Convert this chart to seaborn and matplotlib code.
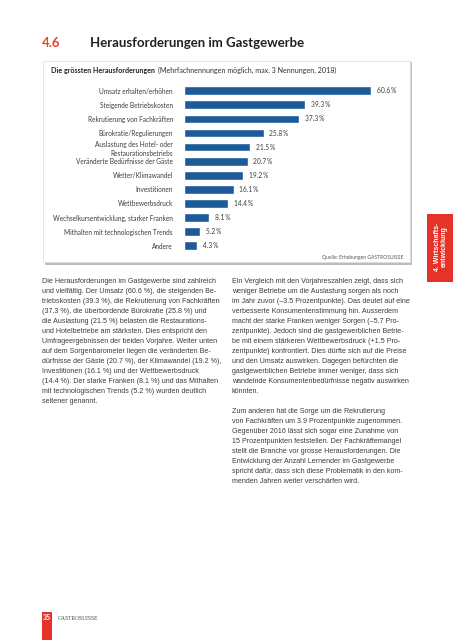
import matplotlib
matplotlib.use("Agg")
import matplotlib.pyplot as plt
import seaborn as sns
from matplotlib.patches import Rectangle

# chart data
categories = [
    "Umsatz erhalten/erhöhen",
    "Steigende Betriebskosten",
    "Rekrutierung von Fachkräften",
    "Bürokratie/Regulierungen",
    "Auslastung des Hotel- oder\nRestaurationsbetriebs",
    "Veränderte Bedürfnisse der Gäste",
    "Wetter/Klimawandel",
    "Investitionen",
    "Wettbewerbsdruck",
    "Wechselkursentwicklung, starker Franken",
    "Mithalten mit technologischen Trends",
    "Andere",
]
values = [60.6, 39.3, 37.3, 25.8, 21.5, 20.7, 19.2, 16.1, 14.4, 8.1, 5.2, 4.3]
value_labels = [f"{v:.1f}\u2009%" for v in values]

left_text = """Die Herausforderungen im Gastgewerbe sind zahlreich
und vielfältig. Der Umsatz (60.6 %), die steigenden Be-
triebskosten (39.3 %), die Rekrutierung von Fachkräften
(37.3 %), die überbordende Bürokratie (25.8 %) und
die Auslastung (21.5 %) belasten die Restaurations-
und Hotelbetriebe am stärksten. Dies entspricht den
Umfrageergebnissen der beiden Vorjahre. Weiter unten
auf dem Sorgenbarometer liegen die veränderten Be-
dürfnisse der Gäste (20.7 %), der Klimawandel (19.2 %),
Investitionen (16.1 %) und der Wettbewerbsdruck
(14.4 %). Der starke Franken (8.1 %) und das Mithalten
mit technologischen Trends (5.2 %) wurden deutlich
seltener genannt."""

right_text = """Ein Vergleich mit den Vorjahreszahlen zeigt, dass sich
weniger Betriebe um die Auslastung sorgen als noch
im Jahr zuvor (–3.5 Prozentpunkte). Das deutet auf eine
verbesserte Konsumentenstimmung hin. Ausserdem
macht der starke Franken weniger Sorgen (–5.7 Pro-
zentpunkte). Jedoch sind die gastgewerblichen Betrie-
be mit einem stärkeren Wettbewerbsdruck (+1.5 Pro-
zentpunkte) konfrontiert. Dies dürfte sich auf die Preise
und den Umsatz auswirken. Dagegen befürchten die
gastgewerblichen Betriebe immer weniger, dass sich
wandelnde Konsumentenbedürfnisse negativ auswirken
könnten.

Zum anderen hat die Sorge um die Rekrutierung
von Fachkräften um 3.9 Prozentpunkte zugenommen.
Gegenüber 2016 lässt sich sogar eine Zunahme von
15 Prozentpunkten feststellen. Der Fachkräftemangel
stellt die Branche vor grosse Herausforderungen. Die
Entwicklung der Anzahl Lernender im Gastgewerbe
spricht dafür, dass sich diese Problematik in den kom-
menden Jahren weiter verschärfen wird."""

sns.set_theme(style="white")
plt.rcParams["font.family"] = ["Lato", "DejaVu Sans"]

W, H = 453, 640
fig = plt.figure(figsize=(W / 100, H / 100), dpi=100)
fig.patch.set_facecolor("white")

def fx(x):
    return x / W

def fy(y):
    return 1 - y / H

red = "#e5332a"
blue = "#1d5a98"
grey = "#3c3c3c"

# page title
fig.text(fx(42), fy(43), "4.6", color="#e0482c", fontsize=9.5, fontweight="bold", va="center")
fig.text(fx(90), fy(43), "Herausforderungen im Gastgewerbe", color="#222222",
         fontsize=9.5, fontweight="bold", va="center")

# chart box with shadow
fig.patches.append(Rectangle((fx(44.5), fy(264.5)), fx(367), 202 / H, transform=fig.transFigure,
                             facecolor="#bdbdbd", edgecolor="none", zorder=0))
fig.patches.append(Rectangle((fx(43), fy(262)), fx(367), 201 / H, transform=fig.transFigure,
                             facecolor="white", edgecolor="#dddddd", linewidth=0.5, zorder=1))

# bars
ax = fig.add_axes([fx(184), fy(252.8), (400 - 184) / W, 169.1 / H], zorder=2)
ax.patch.set_alpha(0)
sns.barplot(x=values, y=categories, color=blue, saturation=1, width=0.62, ax=ax)
ax.set_xlim(0, 216 / 3.086)
ax.set_ylim(11.5, -0.5)
ax.bar_label(ax.containers[0], labels=value_labels, padding=4, fontsize=4.8, color=grey)
ax.set_xticks([])
ax.set_xlabel("")
ax.set_ylabel("")
ax.tick_params(axis="y", length=0, pad=8, labelsize=4.7, labelcolor=grey)
for lbl in ax.get_yticklabels():
    lbl.set_horizontalalignment("right")
    lbl.set_linespacing(1.45)
sns.despine(ax=ax, left=True, bottom=True)

t1 = fig.text(fx(51), fy(70.5), "Die grössten Herausforderungen", fontsize=5.1, fontweight="bold",
              color="#222222", va="center", zorder=3)
ax.annotate("(Mehrfachnennungen möglich, max. 3 Nennungen, 2018)", xy=(1, 0.5), xycoords=t1,
            xytext=(2, 0), textcoords="offset points", fontsize=5.1, color="#333333",
            va="center", annotation_clip=False)

fig.text(fx(403), fy(257.5), "Quelle: Erhebungen GASTROSUISSE", fontsize=3.6, color="#555555",
         ha="right", va="center", zorder=3)

# body text
fig.text(fx(42), fy(278), left_text, fontsize=5.14, color=grey, va="top", ha="left",
         linespacing=1.6, family=["Liberation Sans", "DejaVu Sans"])
fig.text(fx(232), fy(278), right_text, fontsize=5.14, color=grey, va="top", ha="left",
         linespacing=1.6, family=["Liberation Sans", "DejaVu Sans"])

# side tab
fig.patches.append(Rectangle((fx(427), fy(282)), fx(26), 68 / H, transform=fig.transFigure,
                             facecolor=red, edgecolor="none"))
fig.text(fx(441), fy(247), "4. Wirtschafts-\nentwicklung", rotation=90, color="white",
         fontsize=5, fontweight="bold", ha="center", va="center", linespacing=1.0,
         family=["Liberation Sans", "DejaVu Sans"])

# footer
fig.patches.append(Rectangle((fx(42), 0), fx(10), 28 / H, transform=fig.transFigure,
                             facecolor=red, edgecolor="none"))
fig.text(fx(47), fy(618), "35", color="white", fontsize=5, fontweight="bold",
         ha="center", va="center")
fig.text(fx(58), fy(618), "GASTROSUISSE", color="#444444", fontsize=4, va="center",
         family=["Liberation Serif", "DejaVu Serif"])

fig.savefig("out.png", dpi=100)
